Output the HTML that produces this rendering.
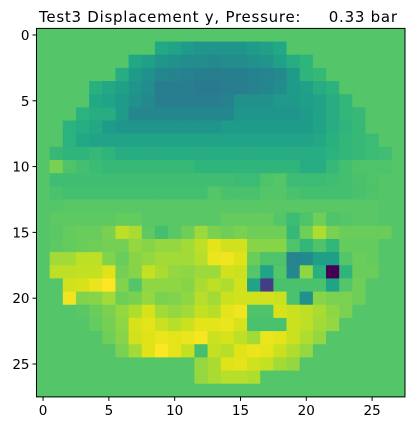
<!DOCTYPE html>
<html><head><meta charset="utf-8"><style>
body{margin:0;background:#fff;width:417px;height:433px;overflow:hidden}
svg{font-family:"DejaVu Sans","Liberation Sans",sans-serif}
</style></head><body>
<svg id="chart" width="417" height="433">
<text x="218" y="22" text-anchor="middle" font-size="15" textLength="358" lengthAdjust="spacing" fill="#000" xml:space="preserve">Test3 Displacement y, Pressure:     0.33 bar</text>
<g id="cells"></g>
<g id="axes"></g>
</svg>
<script>
const rowIndices=[...Array(28).keys()];
const colIndices=[...Array(28).keys()];
const xTickLabels=[0,5,10,15,20,25];
const yTickLabels=[0,5,10,15,20,25];
const row0=[73,73,73,73,73,73,73,73,73,73,73,73,73,73,73,73,73,73,73,73,73,73,73,73,73,73,73,73];
const row1=[73,73,73,73,73,73,73,73,73,60,58,55,52,52,52,52,55,57,60,73,73,73,73,73,73,73,73,73];
const row2=[73,73,73,73,73,73,73,60,57,52,50,48,48,47,48,48,50,52,57,62,65,73,73,73,73,73,73,73];
const row3=[73,73,73,73,73,73,62,55,50,46,45,44,43,43,43,43,44,45,47,55,65,67,73,73,73,73,73,73];
const row4=[73,73,73,73,63,60,57,52,48,42,42,42,41,41,42,42,44,46,48,55,57,62,64,73,73,73,73,73];
const row5=[73,73,73,73,60,58,55,50,47,42,42,42,42,42,44,50,50,50,54,54,56,58,62,66,73,73,73,73];
const row6=[73,73,73,64,62,62,55,46,46,46,46,46,46,46,46,52,52,52,52,52,55,58,62,66,67,73,73,73];
const row7=[73,73,64,62,60,55,52,52,52,52,52,52,52,52,55,55,55,55,55,55,55,58,62,65,67,73,73,73];
const row8=[73,73,64,60,58,58,58,58,58,58,58,58,58,58,58,58,58,58,58,58,58,60,63,66,67,68,73,73];
const row9=[73,67,65,65,67,65,62,62,62,62,62,62,62,62,62,62,62,62,62,62,62,62,64,66,67,68,69,73];
const row10=[73,80,72,70,68,67,67,67,67,67,67,67,65,65,65,65,65,65,65,65,62,62,67,70,72,72,72,73];
const row11=[73,69,69,69,69,69,69,69,69,69,69,69,69,69,69,68,68,72,73,68,68,68,69,70,71,72,73,73];
const row12=[73,71,70,70,70,70,70,70,70,70,70,70,70,73,71,71,71,73,73,71,70,70,70,70,71,72,73,73];
const row13=[73,73,74,74,74,74,74,74,74,74,74,74,74,74,74,74,74,74,74,74,74,74,74,74,74,74,73,73];
const row14=[73,75,75,75,75,75,76,76,74,74,74,74,74,74,76,76,76,76,73,68,72,78,72,73,74,74,73,73];
const row15=[73,74,76,77,77,80,90,87,75,70,74,78,85,80,78,80,78,78,78,67,78,88,80,77,77,77,77,73];
const row16=[73,75,76,77,78,79,79,84,82,84,84,86,90,96,93,93,82,82,82,72,66,72,66,76,76,76,73,73];
const row17=[73,86,86,90,90,81,77,82,84,86,86,86,89,97,98,95,77,72,72,45,47,56,56,73,77,76,73,73];
const row18=[73,90,90,91,91,95,79,82,91,87,84,83,85,85,93,92,73,58,73,46,83,63,0,65,77,77,73,73];
const row19=[73,73,93,94,97,100,81,73,83,83,83,82,87,90,88,93,58,18,71,71,71,71,58,73,78,73,73,73];
const row20=[73,73,98,81,82,86,78,80,84,80,81,83,89,86,92,93,93,93,92,71,50,82,80,80,78,73,73,73];
const row21=[73,73,73,74,77,80,84,88,94,86,84,86,91,89,96,98,72,72,94,92,90,87,83,80,73,73,73,73];
const row22=[73,73,73,73,76,79,83,94,96,92,89,92,96,96,97,94,71,71,71,92,90,86,84,73,73,73,73,73];
const row23=[73,73,73,73,73,78,82,93,95,97,96,97,99,92,94,90,86,97,96,92,88,84,73,73,73,73,73,73];
const row24=[73,73,73,73,73,73,80,86,95,100,96,91,70,91,89,95,97,96,92,88,84,73,73,73,73,73,73,73];
const row25=[73,73,73,73,73,73,73,73,73,73,73,73,84,87,95,96,93,91,86,84,73,73,73,73,73,73,73,73];
const row26=[73,73,73,73,73,73,73,73,73,73,73,73,84,87,89,89,88,73,73,73,73,73,73,73,73,73,73,73];
const row27=[73,73,73,73,73,73,73,73,73,73,73,73,73,73,73,73,73,73,73,73,73,73,73,73,73,73,73,73];
const grid=[row0,row1,row2,row3,row4,row5,row6,row7,row8,row9,row10,row11,row12,row13,row14,row15,row16,row17,row18,row19,row20,row21,row22,row23,row24,row25,row26,row27];

const VIR=["#440154","#471365","#482475","#463480","#414487","#3b528b","#355f8d","#2f6c8e","#2a788e","#25848e","#21918c","#1e9c89","#22a884","#2fb47c","#44bf70","#5ec962","#7ad151","#9bd93c","#bddf26","#dfe318","#fde725"];
function hex(h){return [1,3,5].map(i=>parseInt(h.substr(i,2),16));}
function viridis(t){t=Math.max(0,Math.min(1,t));const p=t*20,i=Math.min(19,Math.floor(p)),f=p-i;const a=hex(VIR[i]),b=hex(VIR[i+1]);return "rgb("+a.map((v,k)=>Math.round(v+(b[k]-v)*f)).join(",")+")";}
const X0=36.5,Y0=28.4,CELL=13.16,N=28;
const vmin=0,vmax=100;
function xScale(c){return X0+c*CELL;}
function yScale(r){return Y0+r*CELL;}
const NS="http://www.w3.org/2000/svg";
const cells=document.getElementById('cells');
rowIndices.forEach(r=>{colIndices.forEach(c=>{
  const el=document.createElementNS(NS,'rect');
  el.setAttribute('x',xScale(c));el.setAttribute('y',yScale(r));
  el.setAttribute('width',CELL+0.4);el.setAttribute('height',CELL+0.4);
  el.setAttribute('fill',viridis((grid[r][c]-vmin)/(vmax-vmin)));
  
  
  cells.appendChild(el);
});});
const axes=document.getElementById('axes');
const frame=document.createElementNS(NS,'rect');
frame.setAttribute('x',X0);frame.setAttribute('y',Y0);frame.setAttribute('width',N*CELL);frame.setAttribute('height',N*CELL);
frame.setAttribute('fill','none');frame.setAttribute('stroke','#000');frame.setAttribute('stroke-width','1');


axes.appendChild(frame);
xTickLabels.forEach(v=>{
  const x=xScale(v+0.5),yb=Y0+N*CELL;
  const l=document.createElementNS(NS,'line');
  l.setAttribute('x1',x);l.setAttribute('x2',x);l.setAttribute('y1',yb);l.setAttribute('y2',yb+4);l.setAttribute('stroke','#000');
  
  
  axes.appendChild(l);
  const t=document.createElementNS(NS,'text');
  t.setAttribute('x',x);t.setAttribute('y',yb+18);t.setAttribute('text-anchor','middle');t.setAttribute('font-size','13.5');
  t.textContent=v;
  
  
  axes.appendChild(t);
});
yTickLabels.forEach(v=>{
  const y=yScale(v+0.5);
  const l=document.createElementNS(NS,'line');
  l.setAttribute('x1',X0-4);l.setAttribute('x2',X0);l.setAttribute('y1',y);l.setAttribute('y2',y);l.setAttribute('stroke','#000');
  
  
  axes.appendChild(l);
  const t=document.createElementNS(NS,'text');
  t.setAttribute('x',X0-7);t.setAttribute('y',y+5);t.setAttribute('text-anchor','end');t.setAttribute('font-size','13.5');
  t.textContent=v;
  
  
  axes.appendChild(t);
});
</script>
</body></html>
